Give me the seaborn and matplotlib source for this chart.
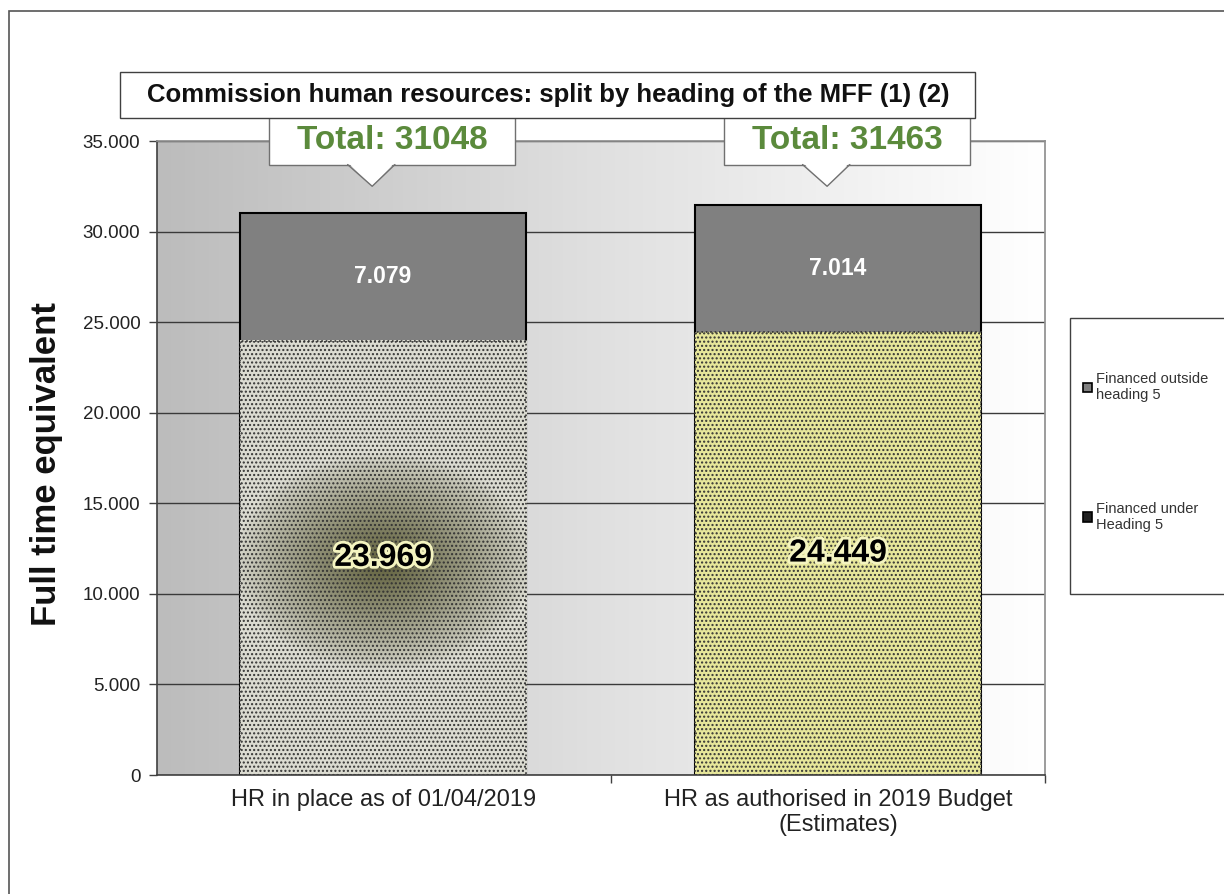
import numpy as np
import pandas as pd
import seaborn as sns
import matplotlib.pyplot as plt
import matplotlib.patheffects as pe
from matplotlib.patches import Patch, Rectangle, Polygon
from matplotlib.ticker import FuncFormatter

# Data
categories = ['HR in place as of 01/04/2019', 'HR as authorised in 2019 Budget\n(Estimates)']
under_h5 = [23969, 24449]      # Financed under Heading 5
outside_h5 = [7079, 7014]      # Financed outside heading 5
totals = [31048, 31463]
legend_labels = ['Financed outside\nheading 5', 'Financed under\nHeading 5']

df = pd.DataFrame({'cat': categories, 'under': under_h5, 'outside': outside_h5, 'total': totals})

sns.set_theme(style='white')
plt.rcParams['font.family'] = ['Liberation Sans', 'DejaVu Sans']
plt.rcParams['hatch.linewidth'] = 1.0

fig = plt.figure(figsize=(12.24, 8.94), dpi=100)
ax = fig.add_axes([157/1224, 1-775/894, (1045-157)/1224, (775-141)/894])

# horizontal grey -> white gradient in the plot area
grad = np.linspace(0, 1, 256).reshape(1, -1)
ax.imshow(grad, cmap=sns.blend_palette(['#bcbcbc', '#e0e0e0', '#ffffff'], as_cmap=True),
          extent=[0, 1, 0, 1], transform=ax.transAxes, aspect='auto', zorder=0)

# stacked bars: totals in grey, "under heading 5" drawn on top
sns.barplot(data=df, x='cat', y='total', color='#808080', width=0.63, ax=ax,
            edgecolor='black', linewidth=1.5, saturation=1, zorder=1)
n0 = len(ax.patches)
sns.barplot(data=df, x='cat', y='under', hue='cat', palette=['#d6d6c8', '#e6e69a'],
            width=0.63, ax=ax, legend=False, saturation=1, zorder=2)
low = ax.patches[n0:]
for i, p in enumerate(low):
    p.set_hatch('....')
    p.set_edgecolor('#333333')
    p.set_linestyle(':')
    p.set_linewidth(1.2)
    p.set_zorder(2)
    if i == 0:
        p.set_facecolor('none')
        # dark olive blob in the first bar
        xx, yy = np.meshgrid(np.linspace(-1, 1, 120), np.linspace(-1, 1, 200))
        r = np.sqrt((xx / 1.05)**2 + ((yy + 0.02) / 0.5)**2)
        t = np.clip(1 - r, 0, 1) ** 0.8
        light = np.array([0.86, 0.86, 0.82])
        dark = np.array([0.38, 0.38, 0.24])
        img = light + (dark - light) * t[..., None]
        x0, w = p.get_x(), p.get_width()
        ax.imshow(img, extent=[x0, x0 + w, 0, p.get_height()], aspect='auto',
                  zorder=1.5, origin='lower', interpolation='bilinear')

ax.set_xlim(-0.497, 1.455)
ax.set_ylim(0, 35000)
ax.set_yticks(range(0, 35001, 5000))
ax.yaxis.set_major_formatter(FuncFormatter(lambda v, _: f'{int(v):,}'.replace(',', '.')))
ax.grid(axis='y', color='#3a3a3a', linewidth=1)
ax.set_axisbelow(True)
ax.tick_params(axis='y', length=6, width=1, color='#404040', labelsize=13.5, pad=6,
               left=True, labelcolor='#222222')
ax.tick_params(axis='x', length=0, labelsize=17, pad=10, labelcolor='#222222')
ax.set_xticks([0.5, 1.455], minor=True)
ax.tick_params(axis='x', which='minor', length=6, color='#404040', bottom=True)
for s in ['top', 'right']:
    ax.spines[s].set_color('#909090')
for s in ['left', 'bottom']:
    ax.spines[s].set_color('#404040')
    ax.spines[s].set_linewidth(1.2)
ax.set_xlabel('')
ax.set_ylabel('Full time equivalent', fontsize=25, fontweight='bold', color='#111111')
ax.yaxis.set_label_coords(-0.106, 0.49)

# value labels
for i in range(len(categories)):
    ax.text(i, under_h5[i] + outside_h5[i] / 2, f'{outside_h5[i]:,}'.replace(',', '.'),
            ha='center', va='center', color='white', fontsize=16.5, fontweight='bold', zorder=5)
    ax.text(i, under_h5[i] / 2, f'{under_h5[i]:,}'.replace(',', '.'),
            ha='center', va='center', color='black', fontsize=23, fontweight='bold', zorder=5,
            path_effects=[pe.withStroke(linewidth=4, foreground='#f4f4c0')])

# total callouts (speech-bubble boxes above each bar)
box_bot, box_top, tip_y = 33700, 36350, 32500
for i, tot in enumerate(totals):
    ax.add_patch(Rectangle((i - 0.25, box_bot), 0.54, box_top - box_bot, fc='white',
                           ec='#707070', lw=1, clip_on=False, zorder=6))
    tail = [(i - 0.078, box_bot + 120), (i - 0.024, tip_y), (i + 0.026, box_bot + 120)]
    ax.add_patch(Polygon(tail, closed=True, fc='white', ec='none', clip_on=False, zorder=6.5))
    ax.plot([tail[0][0], tail[1][0], tail[2][0]], [box_bot, tip_y, box_bot], color='#707070',
            lw=1, clip_on=False, zorder=6.6)
    ax.text(i + 0.02, (box_bot + box_top) / 2, f'Total: {tot}', ha='center', va='center',
            fontsize=24, fontweight='bold', color='#5b8a3c', zorder=7)

# title box
fig.patches.append(Rectangle((120/1224, 1-118/894), 855/1224, 46/894, transform=fig.transFigure,
                             fc='white', ec='#404040', lw=1))
fig.text(548/1224, 1-95/894, 'Commission human resources: split by heading of the MFF (1) (2)',
         ha='center', va='center', fontsize=18.5, fontweight='bold', color='#111111')

# legend box
fig.patches.append(Rectangle((1070/1224, 1-594/894), 0.2, 276/894, transform=fig.transFigure,
                             fc='white', ec='#404040', lw=1, clip_on=False))
handles = [Patch(fc='#808080', ec='black', lw=1.2),
           Patch(fc='#202020', ec='black', lw=1.2)]
fig.legend(handles, legend_labels, loc='upper left', bbox_to_anchor=(1076/1224, 1-365/894),
           frameon=False, fontsize=10.5, handlelength=0.6, handleheight=0.6, handletextpad=0.3,
           labelspacing=6.8, borderpad=0, labelcolor='#333333')

# outer border of the chart
fig.patches.append(Rectangle((9/1224, -0.1), 1.2, (894-11)/894 + 0.1, transform=fig.transFigure,
                             fc='none', ec='#555555', lw=1.2, clip_on=False))

fig.savefig('out.png', dpi=100)
